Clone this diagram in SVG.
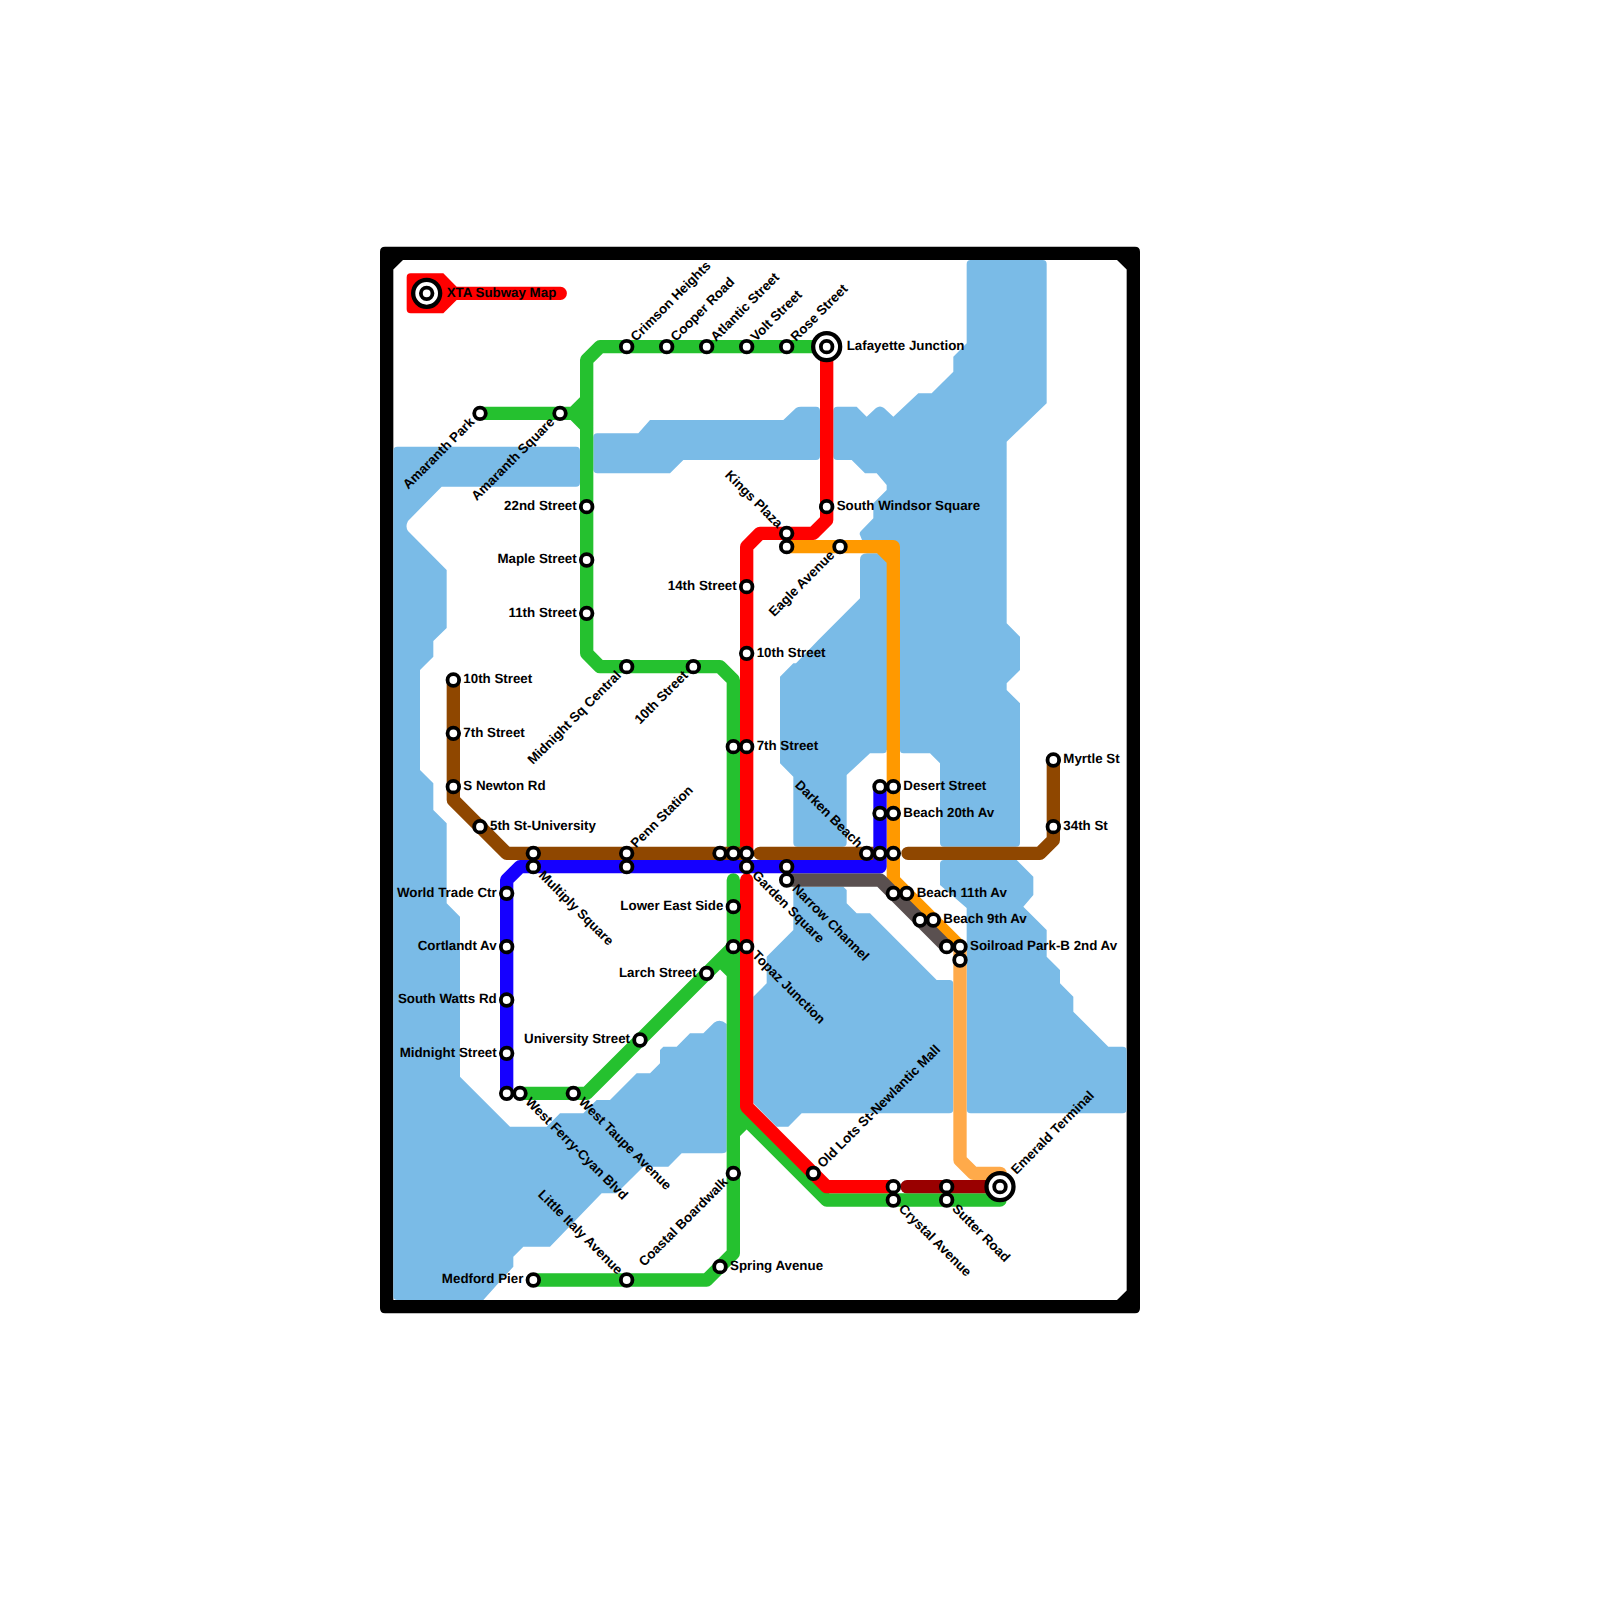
<svg xmlns="http://www.w3.org/2000/svg" width="1600" height="1600" viewBox="0 0 1600 1600">
<style>
.w{fill:#7abbe7;stroke:none}
.l{fill:none;stroke-width:13.33;stroke-linecap:round;stroke-linejoin:round}
.g{stroke:#25c12f}.r{stroke:#ff0000}.o{stroke:#ff9900}.lo{stroke:#ffaa4a}.b{stroke:#1500ff}.y{stroke:#5a5050}.n{stroke:#8f4700}.d{stroke:#990000}
.st{fill:#fff;stroke:#000;stroke-width:3.8}
text{font-family:"Liberation Sans",Arial,sans-serif;font-weight:bold;font-size:13.33px;fill:#000;text-rendering:geometricPrecision}
.e{text-anchor:end}
</style>
<defs>
<g id="term"><circle r="13.5" fill="#fff" stroke="#000" stroke-width="4.3"/><circle r="5.8" fill="#fff" stroke="#000" stroke-width="3.8"/></g>
<circle id="stn" class="st" r="5.8"/>
</defs>
<path id="frame" fill-rule="evenodd" fill="#000" d="M385 246.67H1135Q1140 246.67 1140 251.67V1308.33Q1140 1313.33 1135 1313.33H385Q380 1313.33 380 1308.33V251.67Q380 246.67 385 246.67ZM403 260L393.33 269.5V1300H1117L1126.67 1290.5V269.5L1117 260Z"/>
<g id="water">
<path class="w" d="M393.33 450.67Q393.33 446.67 397.33 446.67H576Q580 446.67 580 450.67V482.67Q580 486.67 576 486.67H441.67L408 521Q405 526.67 408 531L446.67 570V628L433.33 641V656.67L420 670V770L433.33 783.33V810L446.67 823.33V903.33L460 916.67V1076.67L510 1126.67H546.67L560 1113.33H583.33L596.67 1100H610L636.67 1073.33H650L660 1063.33V1050L663.33 1046.67H676.67L690 1033.33H703.33L714 1022.67Q720 1018 726.67 1024V1150Q726.67 1153.33 722 1153.33H681.67L668.33 1166.67H643.33L616.67 1193.33H601.67L550 1246.67H523.33L513.33 1256.67V1266.67L483.33 1300H397.33Q393.33 1300 393.33 1296Z"/>
<path class="w" d="M593.33 437.33Q593.33 433.33 597.33 433.33H638.33L650 420H783.33L796 408Q798 406.67 801 406.67H816Q820 406.67 820 410.67V456Q820 460 816 460H683.33L670 473.33H597.33Q593.33 473.33 593.33 469.33Z"/>
<path class="w" d="M833.33 410.67Q833.33 406.67 837.33 406.67H856.67L866.67 416.67L876 408Q880 405 884 408L893.33 416.67L918.33 393.33H931.67L953.33 371.67V356.67L966.67 343.33V264Q966.67 260 970.67 260H1042.67Q1046.67 260 1046.67 264V403.33L1006.67 441.67V623.33L1020 636.67V670L1006.67 683.33V690L1020 703.33V842.67Q1020 846.67 1016 846.67H944Q940 846.67 940 842.67V763.33L930 753.33H903.33Q900 753.33 900 750H886.67Q886.67 753.33 883 753.33H870L846.67 775V842.67Q846.67 846.67 842.67 846.67H797.33Q793.33 846.67 793.33 842.67V776.67L780 763.33V676.67L793.33 663.33H796L818.33 640L860 598.33V560Q860 553.33 867 553.33H880V540H862L860 535Q859 533 861 531L873.33 518.33V503.33L886.67 490V485L876.67 473.33H865L851.67 460H837.33Q833.33 460 833.33 456Z"/>
<path class="w" d="M776.67 1126.67H788.33L801.67 1113.33H949.33Q953.33 1113.33 953.33 1109.33V984Q953.33 980 949.33 980H936.67L870 913.33H856.67L846.67 903.33V890L843.33 886.67H793.33V930L766.67 956.67V983.33L753.33 996.67V1103.33Z"/>
<path class="w" d="M944 860H1016.67L1033.33 876.67V895L1023.33 906.67L1046.67 930V956.67L1060 970V983.33L1073.33 996.67V1011.67L1108.33 1046.67H1122.67Q1126.67 1046.67 1126.67 1050.67V1109.33Q1126.67 1113.33 1122.67 1113.33H970.67Q966.67 1113.33 966.67 1109.33V908L940 885V864Q940 860 944 860Z"/>
</g>
<g id="connectors">
<path id="title-bar" fill="#ff0000" d="M410.67 273.33H443.33L456.67 286.67H560.5A6.67 6.67 0 0 1 560.5 300H456.67L443.33 313.33H410.67Q406.67 313.33 406.67 309.33V277.33Q406.67 273.33 410.67 273.33Z"/>
<path class="l lo" d="M960 946.67V1160L973.33 1173.33H1000"/>
<path class="l o" d="M786.67 546.67H893.33V880L960 946.67M880 546.67L893.33 560"/>
<path class="l g" d="M480 413.33H573.33L586.67 400M573.33 413.33L586.67 426.67M826.67 346.67H600L586.67 360V653.33L600 666.67H720L733.33 680V853.33M733.33 880V1253.33L706.67 1280H533.33M733.33 946.67L586.67 1093.33H520M720 960L733.33 973.33M733.33 1106.67L826.67 1200H1000M733.33 1133.33L746.67 1120"/>
<path class="l r" d="M826.67 346.67V520L813.33 533.33H760L746.67 546.67V853.33M746.67 880V1106.67L826.67 1186.67H893.33"/>
<path class="l d" d="M907 1186.67H1000"/>
<path class="l y" d="M786.67 880H880L946.67 946.67"/>
<path class="l n" d="M453.33 680V800L506.67 853.33H746.67M760 853.33H880M908 853.33H1040L1053.33 840V760"/>
<path class="l b" d="M880 786.67V866.67H520L506.67 880V1093.33"/>
</g>
<g id="t-xta" transform="translate(426.67 293.33)"><use href="#term"/><text x="20" y="3.33">XTA Subway Map</text></g>
<g id="t-lafayette" transform="translate(826.67 346.67)"><use href="#term"/><text x="20" y="3.33">Lafayette Junction</text></g>
<g id="t-emerald" transform="translate(1000 1186.67)"><use href="#term"/><text x="20" y="3.33" transform="rotate(-45)">Emerald Terminal</text></g>
<g id="s01" transform="translate(626.67 346.67)"><use href="#stn"/><text x="10" y="3.33" transform="rotate(-45)">Crimson Heights</text></g>
<g id="s02" transform="translate(666.67 346.67)"><use href="#stn"/><text x="10" y="3.33" transform="rotate(-45)">Cooper Road</text></g>
<g id="s03" transform="translate(706.67 346.67)"><use href="#stn"/><text x="10" y="3.33" transform="rotate(-45)">Atlantic Street</text></g>
<g id="s04" transform="translate(746.67 346.67)"><use href="#stn"/><text x="10" y="3.33" transform="rotate(-45)">Volt Street</text></g>
<g id="s05" transform="translate(786.67 346.67)"><use href="#stn"/><text x="10" y="3.33" transform="rotate(-45)">Rose Street</text></g>
<g id="s06" transform="translate(480 413.33)"><use href="#stn"/><text class="e" x="-10" y="3.33" transform="rotate(-45)">Amaranth Park</text></g>
<g id="s07" transform="translate(560 413.33)"><use href="#stn"/><text class="e" x="-10" y="3.33" transform="rotate(-45)">Amaranth Square</text></g>
<g id="s08" transform="translate(586.67 506.67)"><use href="#stn"/><text class="e" x="-10" y="3.33">22nd Street</text></g>
<g id="s09" transform="translate(586.67 560)"><use href="#stn"/><text class="e" x="-10" y="3.33">Maple Street</text></g>
<g id="s10" transform="translate(586.67 613.33)"><use href="#stn"/><text class="e" x="-10" y="3.33">11th Street</text></g>
<g id="s11" transform="translate(626.67 666.67)"><use href="#stn"/><text class="e" x="-10" y="3.33" transform="rotate(-45)">Midnight Sq Central</text></g>
<g id="s12" transform="translate(693.33 666.67)"><use href="#stn"/><text class="e" x="-10" y="3.33" transform="rotate(-45)">10th Street</text></g>
<g id="s13" transform="translate(826.67 506.67)"><use href="#stn"/><text x="10" y="3.33">South Windsor Square</text></g>
<g id="s14" transform="translate(786.67 533.33)"><use href="#stn"/><text class="e" x="-10" y="3.33" transform="rotate(45)">Kings Plaza</text></g>
<g id="s15" transform="translate(786.67 546.67)"><use href="#stn"/></g>
<g id="s16" transform="translate(840 546.67)"><use href="#stn"/><text class="e" x="-10" y="3.33" transform="rotate(-45)">Eagle Avenue</text></g>
<g id="s17" transform="translate(746.67 586.67)"><use href="#stn"/><text class="e" x="-10" y="3.33">14th Street</text></g>
<g id="s18" transform="translate(746.67 653.33)"><use href="#stn"/><text x="10" y="3.33">10th Street</text></g>
<g id="s19" transform="translate(733.33 746.67)"><use href="#stn"/></g>
<g id="s20" transform="translate(746.67 746.67)"><use href="#stn"/><text x="10" y="3.33">7th Street</text></g>
<g id="s21" transform="translate(453.33 680)"><use href="#stn"/><text x="10" y="3.33">10th Street</text></g>
<g id="s22" transform="translate(453.33 733.33)"><use href="#stn"/><text x="10" y="3.33">7th Street</text></g>
<g id="s23" transform="translate(453.33 786.67)"><use href="#stn"/><text x="10" y="3.33">S Newton Rd</text></g>
<g id="s24" transform="translate(480 826.67)"><use href="#stn"/><text x="10" y="3.33">5th St-University</text></g>
<g id="s25" transform="translate(533.33 853.33)"><use href="#stn"/></g>
<g id="s26" transform="translate(533.33 866.67)"><use href="#stn"/><text x="10" y="3.33" transform="rotate(45)">Multiply Square</text></g>
<g id="s27" transform="translate(626.67 853.33)"><use href="#stn"/><text x="10" y="3.33" transform="rotate(-45)">Penn Station</text></g>
<g id="s28" transform="translate(626.67 866.67)"><use href="#stn"/></g>
<g id="s29" transform="translate(720 853.33)"><use href="#stn"/></g>
<g id="s30" transform="translate(733.33 853.33)"><use href="#stn"/></g>
<g id="s31" transform="translate(746.67 853.33)"><use href="#stn"/></g>
<g id="s32" transform="translate(746.67 866.67)"><use href="#stn"/><text x="10" y="3.33" transform="rotate(45)">Garden Square</text></g>
<g id="s33" transform="translate(786.67 866.67)"><use href="#stn"/></g>
<g id="s34" transform="translate(786.67 880)"><use href="#stn"/><text x="10" y="3.33" transform="rotate(45)">Narrow Channel</text></g>
<g id="s35" transform="translate(866.67 853.33)"><use href="#stn"/><text class="e" x="-10" y="3.33" transform="rotate(45)">Darken Beach</text></g>
<g id="s36" transform="translate(880 853.33)"><use href="#stn"/></g>
<g id="s37" transform="translate(893.33 853.33)"><use href="#stn"/></g>
<g id="s38" transform="translate(880 786.67)"><use href="#stn"/></g>
<g id="s39" transform="translate(893.33 786.67)"><use href="#stn"/><text x="10" y="3.33">Desert Street</text></g>
<g id="s40" transform="translate(880 813.33)"><use href="#stn"/></g>
<g id="s41" transform="translate(893.33 813.33)"><use href="#stn"/><text x="10" y="3.33">Beach 20th Av</text></g>
<g id="s42" transform="translate(893.33 893.33)"><use href="#stn"/></g>
<g id="s43" transform="translate(906.67 893.33)"><use href="#stn"/><text x="10" y="3.33">Beach 11th Av</text></g>
<g id="s44" transform="translate(920 920)"><use href="#stn"/></g>
<g id="s45" transform="translate(933.33 920)"><use href="#stn"/><text x="10" y="3.33">Beach 9th Av</text></g>
<g id="s46" transform="translate(946.67 946.67)"><use href="#stn"/></g>
<g id="s47" transform="translate(960 946.67)"><use href="#stn"/><text x="10" y="3.33">Soilroad Park-B 2nd Av</text></g>
<g id="s48" transform="translate(960 960)"><use href="#stn"/></g>
<g id="s49" transform="translate(1053.33 760)"><use href="#stn"/><text x="10" y="3.33">Myrtle St</text></g>
<g id="s50" transform="translate(1053.33 826.67)"><use href="#stn"/><text x="10" y="3.33">34th St</text></g>
<g id="s51" transform="translate(506.67 893.33)"><use href="#stn"/><text class="e" x="-10" y="3.33">World Trade Ctr</text></g>
<g id="s52" transform="translate(506.67 946.67)"><use href="#stn"/><text class="e" x="-10" y="3.33">Cortlandt Av</text></g>
<g id="s53" transform="translate(506.67 1000)"><use href="#stn"/><text class="e" x="-10" y="3.33">South Watts Rd</text></g>
<g id="s54" transform="translate(506.67 1053.33)"><use href="#stn"/><text class="e" x="-10" y="3.33">Midnight Street</text></g>
<g id="s55" transform="translate(506.67 1093.33)"><use href="#stn"/></g>
<g id="s56" transform="translate(520 1093.33)"><use href="#stn"/><text x="10" y="3.33" transform="rotate(45)">West Ferry-Cyan Blvd</text></g>
<g id="s57" transform="translate(573.33 1093.33)"><use href="#stn"/><text x="10" y="3.33" transform="rotate(45)">West Taupe Avenue</text></g>
<g id="s58" transform="translate(640 1040)"><use href="#stn"/><text class="e" x="-10" y="3.33">University Street</text></g>
<g id="s59" transform="translate(706.67 973.33)"><use href="#stn"/><text class="e" x="-10" y="3.33">Larch Street</text></g>
<g id="s60" transform="translate(733.33 906.67)"><use href="#stn"/><text class="e" x="-10" y="3.33">Lower East Side</text></g>
<g id="s61" transform="translate(733.33 946.67)"><use href="#stn"/></g>
<g id="s62" transform="translate(746.67 946.67)"><use href="#stn"/><text x="10" y="3.33" transform="rotate(45)">Topaz Junction</text></g>
<g id="s63" transform="translate(733.33 1173.33)"><use href="#stn"/><text class="e" x="-10" y="3.33" transform="rotate(-45)">Coastal Boardwalk</text></g>
<g id="s64" transform="translate(720 1266.67)"><use href="#stn"/><text x="10" y="3.33">Spring Avenue</text></g>
<g id="s65" transform="translate(626.67 1280)"><use href="#stn"/><text class="e" x="-10" y="3.33" transform="rotate(45)">Little Italy Avenue</text></g>
<g id="s66" transform="translate(533.33 1280)"><use href="#stn"/><text class="e" x="-10" y="3.33">Medford Pier</text></g>
<g id="s67" transform="translate(813.33 1173.33)"><use href="#stn"/><text x="10" y="3.33" transform="rotate(-45)">Old Lots St-Newlantic Mall</text></g>
<g id="s68" transform="translate(893.33 1186.67)"><use href="#stn"/></g>
<g id="s69" transform="translate(893.33 1200)"><use href="#stn"/><text x="10" y="3.33" transform="rotate(45)">Crystal Avenue</text></g>
<g id="s70" transform="translate(946.67 1186.67)"><use href="#stn"/></g>
<g id="s71" transform="translate(946.67 1200)"><use href="#stn"/><text x="10" y="3.33" transform="rotate(45)">Sutter Road</text></g>
</svg>
